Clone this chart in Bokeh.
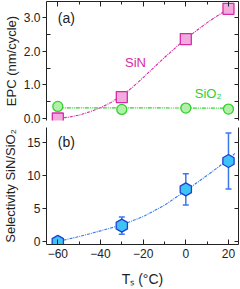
import numpy as np
from bokeh.plotting import figure
from bokeh.models import (LinearAxis, FixedTicker, PrintfTickFormatter, Whisker,
                          ColumnDataSource, Label, Range1d, TeeHead)
from bokeh.layouts import column
from bokeh.embed import file_html
from bokeh.resources import INLINE

# ---- data ----
ts = [-60, -30, 0, 20]
epc_sin = [0.0, 0.64, 2.37, 3.27]
epc_sin_err = [0.0, 0.0, 0.0, 0.15]
epc_sio2 = [0.36, 0.27, 0.31, 0.28]
selectivity = [0.0, 2.43, 7.9, 12.16]
selectivity_err = [0.0, 1.3, 2.36, 4.2]

sin_fit_x = [-60, -55, -50, -45, -40, -35, -30, -25, -20, -15, -10, -5, 0, 5, 10, 15, 20]
sin_fit_y = [0.0, 0.04, 0.1, 0.2, 0.32, 0.48, 0.68, 0.93, 1.22, 1.52, 1.82, 2.1, 2.38, 2.62, 2.86, 3.07, 3.27]
sio2_fit_x = [-60, 20]
sio2_fit_y = [0.32, 0.31]
sel_fit_x = [-60, -50, -40, -30, -20, -10, 0, 10, 20, 23]
sel_fit_y = [0.05, 0.8, 1.65, 2.55, 3.8, 5.5, 7.7, 10.0, 12.4, 13.3]

x_major = [-60, -40, -20, 0, 20]
x_minor = [-50, -30, -10, 10]

FONT = "Liberation Sans"
MAG = "#d62aa6"
MAG_FILL = "#f3aadf"
GRN = "#2fd02f"
GRN_FILL = "#b2f0a8"
BLU = "#1f3fd6"
BLU_FILL = "#3ec3f7"
BLU_LINE = "#3a78ee"
INK = "#222222"


def style_left(ax, majors, minors, fmt=None):
    ax.ticker = FixedTicker(ticks=majors, minor_ticks=minors)
    ax.major_tick_out = 4
    ax.major_tick_in = 0
    ax.minor_tick_in = 4
    ax.minor_tick_out = 0
    ax.major_label_standoff = 2
    ax.major_label_text_font = FONT
    ax.major_label_text_font_size = "12px"
    ax.major_label_text_color = INK
    ax.axis_label_text_font = FONT
    ax.axis_label_text_font_size = "13px"
    ax.axis_label_text_font_style = "normal"
    ax.axis_label_text_color = INK
    ax.axis_line_color = INK
    ax.major_tick_line_color = INK
    ax.minor_tick_line_color = INK
    if fmt:
        ax.formatter = PrintfTickFormatter(format=fmt)


def style_blank(ax, majors, minors, tin=4, mtin=3):
    ax.ticker = FixedTicker(ticks=majors, minor_ticks=minors)
    ax.major_tick_out = 0
    ax.major_tick_in = tin
    ax.minor_tick_out = 0
    ax.minor_tick_in = mtin
    ax.major_label_overrides = {t: "" for t in majors}
    ax.major_label_text_color = None
    ax.major_label_standoff = 0
    ax.axis_line_color = INK
    ax.major_tick_line_color = INK
    ax.minor_tick_line_color = INK


# ---- top panel ----
p1 = figure(width=240, height=126, output_backend="svg", toolbar_location=None,
            x_range=Range1d(-65.3, 24.7), y_range=Range1d(-0.06, 3.49),
            min_border_left=40, min_border_right=2, min_border_top=1, min_border_bottom=6,
            x_axis_location=None, y_axis_location=None)
p1.grid.visible = False
p1.outline_line_color = None

la = LinearAxis(axis_label="EPC (nm/cycle)")
style_left(la, [0, 1, 2, 3], [0.5, 1.5, 2.5], fmt="%.1f")
la.axis_label_standoff = 2
p1.add_layout(la, "left")
ra = LinearAxis()
style_blank(ra, [0, 0.5, 1, 1.5, 2, 2.5, 3], [], tin=4)
p1.add_layout(ra, "right")
ta = LinearAxis()
style_blank(ta, x_major, x_minor, tin=5, mtin=3)
p1.add_layout(ta, "above")

p1.line(sin_fit_x, sin_fit_y, line_color=MAG, line_width=1.1, line_dash="3 1 1 1")
p1.line(sio2_fit_x, sio2_fit_y, line_color=GRN, line_width=1.2, line_dash="4 1 1 1 1 1")

src_sin = ColumnDataSource(dict(x=ts, y=epc_sin,
                                lo=[a - b for a, b in zip(epc_sin, epc_sin_err)],
                                hi=[a + b for a, b in zip(epc_sin, epc_sin_err)]))
p1.add_layout(Whisker(source=src_sin, base="x", lower="lo", upper="hi",
                      line_color=MAG, line_width=1.2,
                      upper_head=TeeHead(size=6, line_color=MAG, line_width=1.2),
                      lower_head=TeeHead(size=6, line_color=MAG, line_width=1.2)))
p1.scatter(ts, epc_sio2, marker="circle", size=10, fill_color=GRN_FILL, line_color=GRN, line_width=1.3)
p1.scatter("x", "y", source=src_sin, marker="square", size=11, fill_color=MAG_FILL, line_color=MAG, line_width=1.3)

p1.add_layout(Label(x=-60, y=3.0, text="(a)", text_baseline="middle", text_align="left",
                    text_font=FONT, text_font_size="14px", text_color=INK))
p1.add_layout(Label(x=-28.5, y=1.67, text="SiN", text_baseline="middle", text_align="left",
                    text_font=FONT, text_font_size="13px", text_color=MAG))
p1.add_layout(Label(x=4.2, y=0.75, text="SiO₂", text_baseline="middle", text_align="left",
                    text_font=FONT, text_font_size="13px", text_color=GRN))

# ---- bottom panel ----
p2 = figure(width=240, height=163, output_backend="svg", toolbar_location=None,
            x_range=p1.x_range, y_range=Range1d(-0.4, 17.2),
            min_border_left=40, min_border_right=2, min_border_top=1, min_border_bottom=44,
            x_axis_location=None, y_axis_location=None)
p2.grid.visible = False
p2.outline_line_color = None

la2 = LinearAxis(axis_label="Selectivity SiN/SiO₂")
style_left(la2, [0, 5, 10, 15], [])
la2.axis_label_standoff = 6
p2.add_layout(la2, "left")
ra2 = LinearAxis()
style_blank(ra2, [0, 5, 10, 15], [], tin=4)
p2.add_layout(ra2, "right")

ba = LinearAxis(axis_label="Tₛ (°C)")
ba.ticker = FixedTicker(ticks=x_major, minor_ticks=x_minor)
ba.major_tick_out = 0
ba.major_tick_in = 5
ba.minor_tick_out = 0
ba.minor_tick_in = 3
ba.major_label_standoff = 4
ba.major_label_text_font = FONT
ba.major_label_text_font_size = "12px"
ba.major_label_text_color = INK
ba.axis_label_text_font = FONT
ba.axis_label_text_font_size = "14px"
ba.axis_label_text_font_style = "normal"
ba.axis_label_text_color = INK
ba.axis_label_standoff = 10
ba.axis_line_color = INK
ba.major_tick_line_color = INK
ba.minor_tick_line_color = INK
p2.add_layout(ba, "below")

p2.line(sel_fit_x, sel_fit_y, line_color=BLU_LINE, line_width=1.1, line_dash="3 1 1 1")
src_sel = ColumnDataSource(dict(x=ts, y=selectivity,
                                lo=[a - b for a, b in zip(selectivity, selectivity_err)],
                                hi=[a + b for a, b in zip(selectivity, selectivity_err)]))
p2.add_layout(Whisker(source=src_sel, base="x", lower="lo", upper="hi",
                      line_color=BLU_LINE, line_width=1.5,
                      upper_head=TeeHead(size=6, line_color=BLU_LINE, line_width=1.5),
                      lower_head=TeeHead(size=6, line_color=BLU_LINE, line_width=1.5)))
p2.scatter("x", "y", source=src_sel, marker="hex", size=13, angle=np.pi / 6,
           fill_color=BLU_FILL, line_color=BLU, line_width=1.3)

p2.add_layout(Label(x=-60, y=14.95, text="(b)", text_baseline="middle", text_align="left",
                    text_font=FONT, text_font_size="14px", text_color=INK))

layout = column(p1, p2, spacing=0)
open("out.html", "w").write(file_html(layout, INLINE))
